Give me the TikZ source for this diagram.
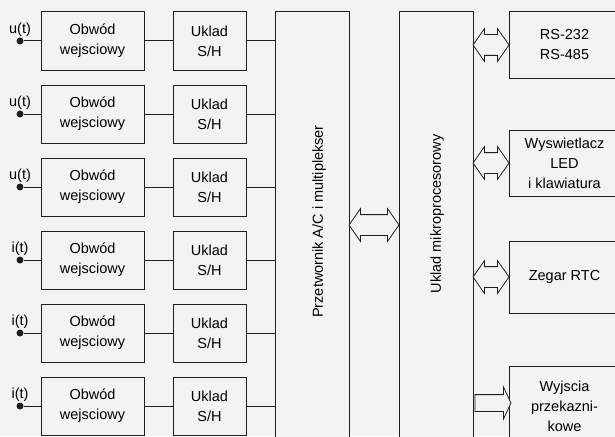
\documentclass[tikz,border=0pt]{standalone}
\usepackage{fontspec}
\setmainfont{Liberation Sans}
\usetikzlibrary{arrows.meta,positioning,calc,shapes.arrows}
\definecolor{Paper}{HTML}{F3F3F3}
\definecolor{Ink}{HTML}{1E1E1E}

\begin{document}
\begin{tikzpicture}[x=1pt,y=-1pt,>=Latex,
    font=\fontsize{14.5}{20}\selectfont,
    blok/.style={draw=Ink,line width=1pt,fill=Paper,align=center,inner sep=0pt},
    indot/.style={circle,fill=Ink,inner sep=0pt,minimum size=7pt},
    wire/.style={Ink,line width=1pt},
    dblarr/.style={double arrow,draw=Ink,line width=0.8pt,fill=Paper,inner xsep=0pt,inner ysep=10pt,
      double arrow head extend=6pt,double arrow tip angle=110},
    onearr/.style={single arrow,draw=Ink,line width=0.8pt,fill=Paper,inner xsep=0pt,inner ysep=8pt,
      single arrow head extend=7.5pt,single arrow tip angle=130}]
  \clip (0,0) rectangle (615,436);
  \fill[Paper] (0,0) rectangle (615,436);
  % bloki centralne
  \node[blok,minimum width=74pt,minimum height=433pt] (ac) at (312,228.5) {};
  \node[blok,minimum width=74pt,minimum height=433pt] (mp) at (436,228.5) {};
  \node[rotate=90] (aclab) at (319,221.5) {Przetwornik A/C i multiplekser};
  \node[rotate=90] (mplab) at (437,214) {Uklad mikroprocesorowy};
  % tory wejsciowe
  \foreach \i/\sig in {0/u,1/u,2/u,3/i,4/i,5/i}{
    \pgfmathsetmacro{\cy}{41+73*\i}
    \node[indot,label={[inner sep=1pt]above:\sig(t)}] (in\i) at (20,\cy) {};
    \node[blok,minimum width=103pt,minimum height=58pt] (obw\i) at (92.5,\cy) {Obwód\\wejsciowy};
    \node[blok,minimum width=73pt,minimum height=58pt] (sh\i) at (209.5,\cy) {Uklad\\S/H};
    \draw[wire] (in\i) -- (obw\i.west);
    \draw[wire] (obw\i.east) -- (sh\i.west);
    \draw[wire] (sh\i.east) -- (ac.west |- sh\i.east);
  }
  % bloki peryferyjne
  \node[blok,minimum width=111pt,minimum height=66pt] (rs) at (564.5,45) {RS-232\\RS-485};
  \node[blok,minimum width=111pt,minimum height=66pt] (led) at (564.5,163) {Wyswietlacz\\LED\\i klawiatura};
  \node[blok,minimum width=111pt,minimum height=72pt] (rtc) at (564.5,277) {Zegar RTC};
  \node[blok,minimum width=111pt,minimum height=80pt] (out) at (564.5,406) {Wyjscia\\przekazni-\\kowe};
  % magistrale
  \node[dblarr,minimum height=50pt] (bus) at ($(ac.east |- 0,225)!0.5!(mp.west |- 0,225)$) {};
  \foreach \b in {rs,led,rtc}{
    \node[dblarr,minimum height=36pt] (bus\b) at ($(mp.east |- \b.west)!0.5!(\b.west)$) {};
  }
  \node[onearr,minimum height=36pt] (busout) at ($(mp.east |- 0,403)!0.5!(out.west |- 0,403)$) {};
\end{tikzpicture}
\end{document}
